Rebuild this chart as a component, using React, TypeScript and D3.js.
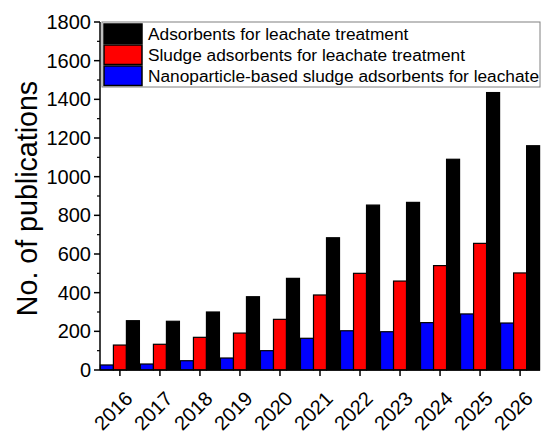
import * as d3 from "d3";

const years = ["2016", "2017", "2018", "2019", "2020", "2021", "2022", "2023", "2024", "2025", "2026"];
const adsorbents = [255, 252, 300, 379, 474, 684, 853, 867, 1090, 1435, 1160];
const sludge = [129, 133, 169, 191, 262, 388, 500, 460, 540, 655, 502];
const nano = [26, 31, 48, 62, 100, 164, 203, 198, 245, 290, 243];
const yTicks = d3.range(0, 1801, 200);
const yMinor = d3.range(100, 1800, 200);

// bar order inside a group (left to right)
const barSeries = [
  { key: "nano", values: nano, color: "#0000ff" },
  { key: "sludge", values: sludge, color: "#ff0000" },
  { key: "ads", values: adsorbents, color: "#000000" },
];
// legend order (top to bottom)
const legendItems = [
  { label: "Adsorbents for leachate treatment", color: "#000000" },
  { label: "Sludge adsorbents for leachate treatment", color: "#ff0000" },
  { label: "Nanoparticle-based sludge adsorbents for leachate", color: "#0000ff" },
];

const W = 550;
const H = 443;
const m = { left: 100, right: 10, top: 22, bottom: 73 };
const font = "'Liberation Sans', Arial, sans-serif";

export default function App() {
  const x = d3.scaleBand().domain(years).range([m.left, W - m.right]).paddingInner(0.025).paddingOuter(0.01);
  const xs = d3.scaleBand().domain(barSeries.map((s) => s.key)).range([0, x.bandwidth()]);
  const y = d3.scaleLinear().domain([0, 1800]).range([H - m.bottom, m.top]);
  const y0 = y(0);

  return (
    <svg width={W} height={H} style={{ position: "absolute", left: 0, top: 0 }} fontFamily={font}>
      <rect width={W} height={H} fill="#fff" />
      {/* bars */}
      {years.map((yr, i) => (
        <g key={yr}>
          {barSeries.map((s) => (
            <rect
              key={s.key}
              x={(x(yr) as number) + (xs(s.key) as number)}
              y={y(s.values[i])}
              width={xs.bandwidth()}
              height={y0 - y(s.values[i])}
              fill={s.color}
              stroke="#000"
              strokeWidth={1.2}
            />
          ))}
        </g>
      ))}

      {/* legend */}
      <rect x={102} y={22} width={438} height={65} fill="#fff" stroke="#808080" strokeWidth={1} />
      {legendItems.map((d, i) => (
        <g key={d.label} transform={`translate(0, ${24 + i * 21})`}>
          <rect x={104} y={0} width={38} height={19.5} fill={d.color} stroke="#000" strokeWidth={1.5} />
          <text x={148} y={16} fontSize={17.3} fill="#000">
            {d.label}
          </text>
        </g>
      ))}

      {/* y axis */}
      <line x1={m.left} x2={m.left} y1={m.top} y2={y0} stroke="#000" strokeWidth={1.5} />
      {yTicks.map((t) => (
        <g key={t}>
          <line x1={m.left - 6} x2={m.left} y1={y(t)} y2={y(t)} stroke="#000" strokeWidth={1.5} />
          <text x={m.left - 9} y={y(t)} dy="0.35em" textAnchor="end" fontSize={20} fill="#000">
            {t}
          </text>
        </g>
      ))}
      {yMinor.map((t) => (
        <line key={t} x1={m.left - 3} x2={m.left} y1={y(t)} y2={y(t)} stroke="#000" strokeWidth={1.2} />
      ))}
      <text
        transform={`translate(37, 198.5) rotate(-90)`}
        textAnchor="middle"
        fontSize={28.6}
        fill="#000"
      >
        No. of publications
      </text>

      {/* x axis */}
      <line x1={m.left} x2={W - m.right} y1={y0} y2={y0} stroke="#000" strokeWidth={1.5} />
      {years.map((yr) => {
        const cx = (x(yr) as number) + x.bandwidth() / 2;
        return (
          <g key={yr}>
            <line x1={cx} x2={cx} y1={y0} y2={y0 + 6} stroke="#000" strokeWidth={1.5} />
            <text
              transform={`translate(${cx + 14}, ${y0 + 30}) rotate(-45)`}
              textAnchor="end"
              fontSize={20}
              fill="#000"
            >
              {yr}
            </text>
          </g>
        );
      })}
    </svg>
  );
}
